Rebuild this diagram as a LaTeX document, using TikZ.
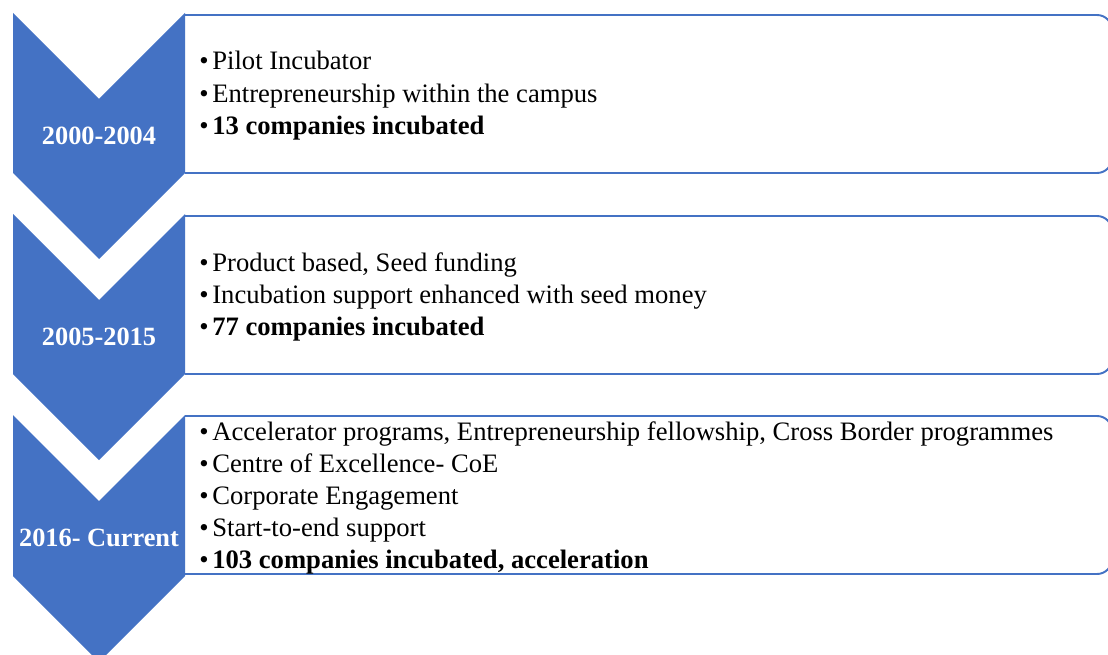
\documentclass[tikz,border=0pt]{standalone}
\usepackage{fontspec}
\setmainfont{Liberation Serif}
\usepackage{tikz}

\definecolor{stageblue}{HTML}{4472C4}
\tikzset{
  stage/.style={fill=stageblue, draw=none},
  panel/.style={draw=stageblue, line width=1.1pt, rounded corners=0.3cm, fill=white},
  year/.style={text=white, inner sep=0pt, font=\fontsize{15}{18}\selectfont\bfseries},
  item/.style={anchor=base west, inner sep=0pt, font=\fontsize{15.15}{18}\selectfont}
}
\newcommand{\itm}{\makebox[0.26cm][l]{\textbullet}}

\begin{document}
\begin{tikzpicture}[x=0.02cm, y=-0.02cm]
\useasboundingbox (0,0) rectangle (1108,655);
\clip (0,0) rectangle (1108,655);

% panels, open on the left where the chevrons sit
\draw[panel] (185,15) -- (1112,15) -- (1112,173) -- (185,173);
\draw[panel] (185,216) -- (1112,216) -- (1112,374) -- (185,374);
\draw[panel] (185,416) -- (1112,416) -- (1112,574) -- (185,574);

% chevrons
\fill[stage] (13,13) -- (99,99) -- (185,13) -- (185,173) -- (99,259) -- (13,173) -- cycle;
\fill[stage] (13,214) -- (99,300) -- (185,214) -- (185,374) -- (99,460) -- (13,374) -- cycle;
\fill[stage] (13,415) -- (99,501) -- (185,415) -- (185,576) -- (99,662) -- (13,576) -- cycle;

% years
\node[year] (y1) at (99,136) {2000-2004};
\node[year] (y2) at (99,337) {2005-2015};
\node[year] (y3) at (99,538) {2016- Current};

% first stage
\node[item] (a1) at (199,70) {\itm Pilot Incubator};
\node[item] (a2) at (199,102.5) {\itm Entrepreneurship within the campus};
\node[item] (a3) at (199,135) {\itm\textbf{13 companies incubated}};

% second stage
\node[item] (b1) at (199,271) {\itm Product based, Seed funding};
\node[item] (b2) at (199,303) {\itm Incubation support enhanced with seed money};
\node[item] (b3) at (199,335) {\itm\textbf{77 companies incubated}};

% third stage
\node[item] (c1) at (199,440) {\itm Accelerator programs, Entrepreneurship fellowship, Cross Border programmes};
\node[item] (c2) at (199,472) {\itm Centre of Excellence- CoE};
\node[item] (c3) at (199,504) {\itm Corporate Engagement};
\node[item] (c4) at (199,536) {\itm Start-to-end support};
\node[item] (c5) at (199,568) {\itm\textbf{103 companies incubated, acceleration}};
\end{tikzpicture}
\end{document}
